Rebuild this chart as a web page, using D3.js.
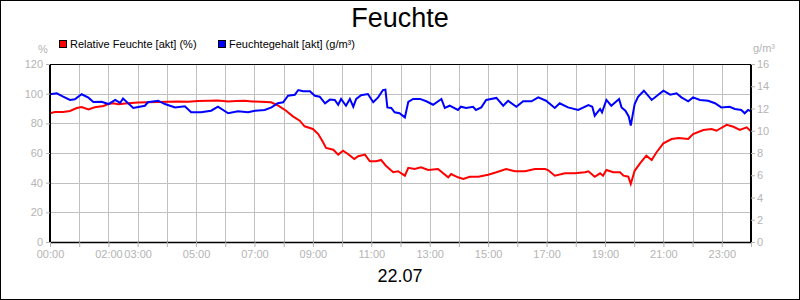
<!DOCTYPE html>
<html><head><meta charset="utf-8">
<script src="https://cdn.jsdelivr.net/npm/d3@7"></script>
<style>body{margin:0;background:#fff}svg{display:block}text{font-family:"Liberation Sans",Arial,sans-serif}</style>
</head><body>
<svg id="c" width="800" height="300"></svg>
<script>
const title = "Feuchte";
const dateLabel = "22.07";
const seriesNames = ["Relative Feuchte [akt] (%)", "Feuchtegehalt [akt] (g/m³)"];
const seriesColors = ["#ff0000", "#0000ff"];
const leftUnit = "%", rightUnit = "g/m³";
const leftTicks = [0, 20, 40, 60, 80, 100, 120];
const rightTicks = [0, 2, 4, 6, 8, 10, 12, 14, 16];
const xTickLabels = ["00:00","02:00","03:00","05:00","07:00","09:00","11:00","13:00","15:00","17:00","19:00","21:00","23:00"];

const rhTimes = ["00:00","00:10","00:27","00:41","00:55","01:05","01:19","01:32","01:50","01:59","02:10","02:20","02:40","03:01","03:21","03:42","04:02","04:23","04:44","05:04","05:25","05:45","06:06","06:22","06:40","06:55","07:14","07:34","07:49","08:05","08:19","08:33","08:43","09:00","09:11","09:21","09:27","09:42","09:52","10:02","10:12","10:25","10:33","10:47","10:57","11:10","11:20","11:30","11:45","11:55","12:09","12:16","12:29","12:42","12:57","13:17","13:38","13:44","13:58","14:09","14:22","14:40","15:00","15:17","15:37","15:55","16:16","16:36","16:57","17:03","17:17","17:38","17:58","18:19","18:26","18:39","18:50","18:56","19:03","19:17","19:31","19:38","19:48","19:53","20:01","20:12","20:25","20:36","20:46","21:00","21:17","21:31","21:51","22:01","22:22","22:39","22:49","23:10","23:24","23:37","23:51","24:00"];
const rhValues = [86.7,87.6,87.6,88.3,90.3,91.0,89.4,90.8,91.7,93.0,93.5,92.8,93.5,94.0,94.2,94.4,94.6,94.8,94.6,95.0,95.2,95.4,94.8,95.0,95.2,94.8,94.6,94.2,91.9,88.5,84.7,81.8,78.0,76.2,72.8,67.2,63.4,62.2,58.9,61.5,59.3,55.9,57.8,58.9,54.4,54.4,55.3,51.4,47.0,47.7,44.7,50.0,49.2,50.3,48.5,49.2,43.6,45.8,43.6,42.5,44.0,44.0,45.4,47.0,49.2,47.7,47.7,49.2,49.2,48.5,44.7,46.3,46.3,47.0,47.7,44.0,46.3,44.7,48.5,47.0,47.0,44.7,44.0,39.1,48.0,53.0,58.2,55.3,60.5,66.5,69.4,70.1,69.4,72.8,75.5,76.2,75.0,79.0,77.7,75.5,77.3,74.6];

const ahTimes = ["00:00","00:14","00:27","00:41","00:51","01:05","01:19","01:29","01:46","02:00","02:14","02:24","02:30","02:51","03:15","03:21","03:42","03:56","04:17","04:37","04:50","05:10","05:31","05:45","06:06","06:26","06:47","07:01","07:21","07:35","07:48","07:59","08:09","08:23","08:30","08:40","08:54","09:04","09:14","09:25","09:35","09:45","09:52","09:58","10:08","10:16","10:23","10:29","10:39","10:53","11:04","11:14","11:24","11:29","11:33","11:41","11:48","11:58","12:09","12:16","12:26","12:40","12:53","13:07","13:24","13:31","13:41","13:58","14:04","14:15","14:29","14:35","14:46","14:56","15:17","15:31","15:41","15:58","16:12","16:29","16:43","16:59","17:17","17:27","17:44","18:05","18:26","18:34","18:39","18:50","18:54","19:03","19:13","19:29","19:34","19:42","19:49","19:53","20:01","20:08","20:20","20:36","21:00","21:14","21:27","21:37","21:51","22:01","22:15","22:32","22:46","22:59","23:16","23:27","23:40","23:47","23:54","24:00"];
const ahValues = [13.28,13.37,13.07,12.77,12.83,13.28,12.97,12.59,12.61,12.40,12.77,12.50,12.90,12.05,12.25,12.56,12.70,12.40,12.10,12.20,11.66,11.66,11.80,12.16,11.57,11.75,11.66,11.80,11.87,12.10,12.47,12.56,13.15,13.24,13.66,13.55,13.55,13.15,13.06,12.47,12.80,12.77,12.34,12.86,12.25,12.86,12.16,12.86,13.20,13.30,12.56,13.00,13.66,13.70,12.10,12.05,11.66,11.57,11.20,12.60,12.86,12.86,12.65,12.34,12.86,12.05,12.25,11.87,12.16,12.05,12.16,11.87,12.10,12.77,12.95,12.25,12.70,12.16,12.65,12.65,13.00,12.70,12.05,12.47,12.10,11.87,12.30,12.16,11.35,11.96,11.66,12.77,12.25,12.86,12.10,11.80,11.26,10.46,12.40,13.06,13.60,12.77,13.60,13.24,13.37,13.00,12.65,13.00,12.77,12.70,12.47,12.10,12.16,11.96,11.87,11.57,11.87,11.75];

const toMin = s => { const [h, m] = s.split(":").map(Number); return h * 60 + m; };

const svg = d3.select("#c");
const L = 50, R = 751, T = 64, B = 242;
const grey = "#b4b4b4";

svg.append("rect").attr("x", 0.5).attr("y", 0.5).attr("width", 799).attr("height", 299)
  .attr("fill", "#fff").attr("stroke", "#000").attr("stroke-width", 1);

const x = d3.scaleLinear().domain([0, 1440]).range([L, R]);
const yL = d3.scaleLinear().domain([0, 120]).range([B, T]);
const yR = d3.scaleLinear().domain([0, 16]).range([B, T]);

// grid
const hours = d3.range(0, 25);
svg.append("g").selectAll("line").data(hours.slice(1, 24)).join("line")
  .attr("x1", d => Math.round(x(d * 60)) + 0.5).attr("x2", d => Math.round(x(d * 60)) + 0.5)
  .attr("y1", T).attr("y2", B).attr("stroke", "#c0c0c0").attr("stroke-width", 1);
svg.append("g").selectAll("line").data(leftTicks.slice(1, -1)).join("line")
  .attr("x1", L).attr("x2", R).attr("y1", d => Math.round(yL(d)) + 0.5).attr("y2", d => Math.round(yL(d)) + 0.5)
  .attr("stroke", "#c0c0c0").attr("stroke-width", 1);

// lines
const line = (ys) => d3.line().x(d => x(d.t)).y(d => ys(d.v));
const rhData = rhTimes.map((t, i) => ({ t: toMin(t), v: rhValues[i] }));
const ahData = ahTimes.map((t, i) => ({ t: toMin(t), v: ahValues[i] }));
svg.append("clipPath").attr("id", "pc").append("rect").attr("x", L).attr("y", T).attr("width", R - L).attr("height", B - T);
svg.append("path").datum(rhData).attr("d", line(yL)).attr("fill", "none").attr("stroke", seriesColors[0]).attr("stroke-width", 2).attr("clip-path", "url(#pc)");
svg.append("path").datum(ahData).attr("d", line(yR)).attr("fill", "none").attr("stroke", seriesColors[1]).attr("stroke-width", 2).attr("clip-path", "url(#pc)");

// frame
svg.append("line").attr("x1", L).attr("x2", R).attr("y1", T + 0.5).attr("y2", T + 0.5).attr("stroke", "#000");
svg.append("line").attr("x1", L).attr("x2", R + 1).attr("y1", B + 0.5).attr("y2", B + 0.5).attr("stroke", "#000").attr("stroke-width", 1.5);
svg.append("line").attr("x1", L).attr("x2", L).attr("y1", T).attr("y2", B + 1).attr("stroke", "#000").attr("stroke-width", 2);
svg.append("line").attr("x1", R).attr("x2", R).attr("y1", T).attr("y2", B + 1).attr("stroke", "#000").attr("stroke-width", 2);

// axes
const fs = "11px";
const axL = svg.append("g").attr("transform", `translate(${L},0)`)
  .call(d3.axisLeft(yL).tickValues(leftTicks).tickSize(4).tickPadding(3));
const axR = svg.append("g").attr("transform", `translate(${R},0)`)
  .call(d3.axisRight(yR).tickValues(rightTicks).tickSize(4).tickPadding(2));
const axB = svg.append("g").attr("transform", `translate(0,${B})`)
  .call(d3.axisBottom(x).tickValues(hours.map(h => h * 60)).tickSize(5).tickPadding(3)
    .tickFormat(d => { const s = d3.format("02")(Math.floor(d / 60)) + ":00"; return xTickLabels.includes(s) ? s : ""; }));
[axL, axR, axB].forEach(g => {
  g.select(".domain").remove();
  g.selectAll(".tick line").attr("stroke", grey);
  g.selectAll(".tick text").attr("fill", grey).style("font-size", fs).style("font-family", '"Liberation Sans",Arial,sans-serif');
});

// units
svg.append("text").attr("x", 43).attr("y", 53).attr("text-anchor", "middle").attr("fill", grey).style("font-size", "11px").text(leftUnit);
svg.append("text").attr("x", 753).attr("y", 52).attr("fill", grey).style("font-size", "11px").text(rightUnit);

// legend
const legX = [59, 218];
seriesNames.forEach((n, i) => {
  svg.append("rect").attr("x", legX[i] + 0.5).attr("y", 40.5).attr("width", 7).attr("height", 7)
    .attr("fill", seriesColors[i]).attr("stroke", "#000").attr("stroke-width", 1);
  svg.append("text").attr("x", legX[i] + 11).attr("y", 48).attr("fill", "#000").style("font-size", "11px").text(n);
});

// titles
svg.append("text").attr("x", 400).attr("y", 27).attr("text-anchor", "middle").style("font-size", "27px").text(title);
svg.append("text").attr("x", 400).attr("y", 282).attr("text-anchor", "middle").style("font-size", "18px").text(dateLabel);
</script>
</body></html>
